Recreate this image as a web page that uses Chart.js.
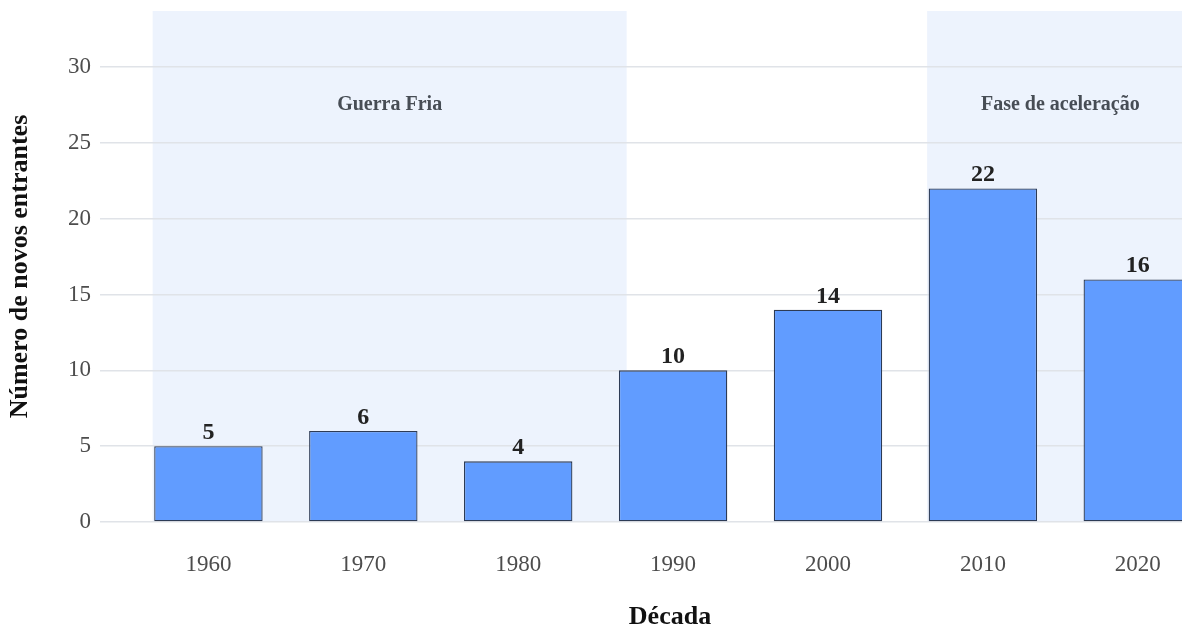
<!DOCTYPE html>
<html>
<head>
<meta charset="utf-8">
<script src="https://cdn.jsdelivr.net/npm/chart.js@4"></script>
<style>
  html, body { margin: 0; padding: 0; background: #fff; overflow: hidden; }
  #grafico { position: absolute; left: 0; top: 0; }
</style>
</head>
<body>
<canvas id="grafico" width="1240" height="628"></canvas>
<script>
// décadas e número de novos entrantes por década
const decadas = [1960, 1970, 1980, 1990, 2000, 2010, 2020]
const entrantes = [5, 6, 4, 10, 14, 22, 16]
const ticksY = [0, 5, 10, 15, 20, 25, 30]

// períodos destacados (em anos) e o texto de cada um
const periodos = ['Guerra Fria', 'Fase de aceleração']
const inicioPeriodo = [1956.4, 2006.4]
const fimPeriodo = [1987, 2023.6]
const alturaRotulo = 27.5

const fonte = "'Liberation Serif', 'Times New Roman', serif"

// faixas de fundo + texto do período, desenhadas antes da grade
const faixas = {
  id: 'faixas',
  beforeDraw(chart) {
    const { ctx, chartArea, scales } = chart
    ctx.save()
    ctx.beginPath()
    ctx.rect(chartArea.left, chartArea.top, chartArea.right - chartArea.left, chartArea.bottom - chartArea.top)
    ctx.clip()
    ctx.fillStyle = '#edf3fd'
    for (let i = 0; i < periodos.length; i++) {
      const x1 = scales.x.getPixelForValue(inicioPeriodo[i])
      const x2 = scales.x.getPixelForValue(fimPeriodo[i])
      ctx.fillRect(x1, chartArea.top, x2 - x1, scales.y.getPixelForValue(0) - chartArea.top)
    }
    ctx.restore()
  },
  afterDatasetsDraw(chart) {
    const { ctx, scales } = chart
    ctx.save()
    ctx.fillStyle = '#474d55'
    ctx.font = 'bold 20px ' + fonte
    ctx.textAlign = 'center'
    ctx.textBaseline = 'middle'
    for (let i = 0; i < periodos.length; i++) {
      const meio = (inicioPeriodo[i] + fimPeriodo[i]) / 2
      ctx.fillText(periodos[i], scales.x.getPixelForValue(meio), scales.y.getPixelForValue(alturaRotulo))
    }
    ctx.restore()
  }
}

// valor em cima de cada barra
const valores = {
  id: 'valores',
  afterDatasetsDraw(chart) {
    const { ctx } = chart
    const meta = chart.getDatasetMeta(0)
    ctx.save()
    ctx.fillStyle = '#222'
    ctx.font = 'bold 24px ' + fonte
    ctx.textAlign = 'center'
    ctx.textBaseline = 'alphabetic'
    meta.data.forEach((barra, i) => {
      ctx.fillText(String(entrantes[i]), barra.x, barra.y - 7)
    })
    ctx.restore()
  }
}

const data = {
  datasets: [{
    label: 'Novos entrantes',
    data: decadas.map((d, i) => ({ x: d, y: entrantes[i] })),
    backgroundColor: '#619cff',
    borderColor: '#2d3b55',
    borderWidth: 1.3,
    borderSkipped: false,
    categoryPercentage: 0.7,
    barPercentage: 1
  }]
}

const config = {
  type: 'bar',
  data: data,
  options: {
    responsive: false,
    animation: false,
    devicePixelRatio: 1,
    layout: { padding: { top: 11, left: 0, right: 0, bottom: 0 } },
    plugins: {
      legend: { display: false },
      tooltip: { enabled: false }
    },
    scales: {
      x: {
        type: 'linear',
        offset: false,
        min: 1953,
        max: 2026.6,
        afterBuildTicks: s => { s.ticks = decadas.map(v => ({ value: v })) },
        afterFit: s => { s.height = 106; s.paddingLeft = 0; s.paddingRight = 0 },
        grid: { display: false, drawTicks: false },
        border: { display: false },
        ticks: {
          padding: 29,
          color: '#4d4d4d',
          font: { family: fonte, size: 23 },
          callback: v => String(v)
        },
        title: {
          display: true,
          text: 'Década',
          color: '#111',
          font: { family: fonte, size: 26, weight: 'bold', lineHeight: 0.85 },
          padding: { top: 0, bottom: 0 }
        }
      },
      y: {
        min: 0,
        max: 33.7,
        afterBuildTicks: s => { s.ticks = ticksY.map(v => ({ value: v })) },
        afterFit: s => { s.width = 100; s.paddingTop = 0; s.paddingBottom = 0 },
        grid: { color: '#e0e3e8', lineWidth: 1.5, drawTicks: false },
        border: { display: false },
        ticks: {
          padding: 9,
          color: '#4d4d4d',
          font: { family: fonte, size: 23 }
        },
        title: {
          display: true,
          text: 'Número de novos entrantes',
          color: '#111',
          font: { family: fonte, size: 26, weight: 'bold', lineHeight: 1.2 },
          padding: { top: 5, bottom: 0 }
        }
      }
    }
  },
  plugins: [faixas, valores]
}

const grafico = new Chart(document.getElementById('grafico'), config)
</script>
</body>
</html>
